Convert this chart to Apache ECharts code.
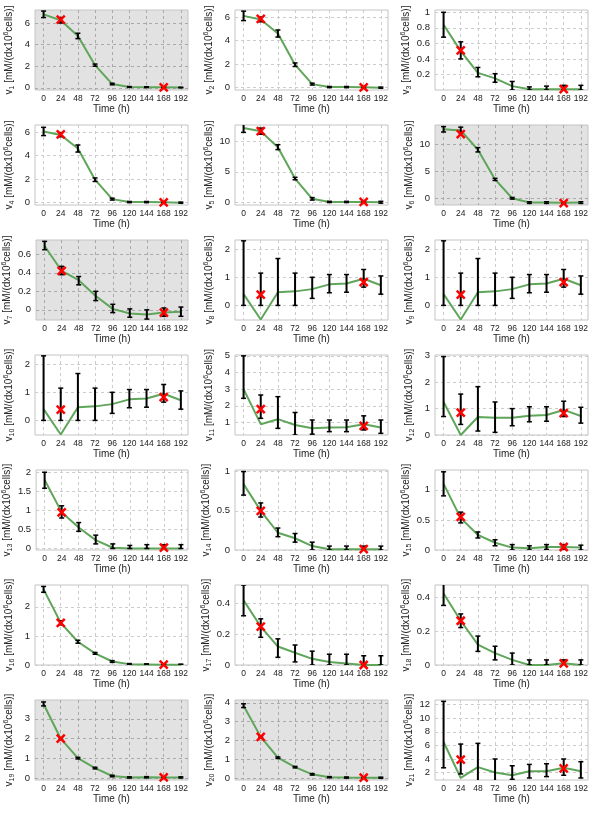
<!DOCTYPE html>
<html><head><meta charset="utf-8">
<script src="https://cdn.jsdelivr.net/npm/echarts@6/dist/echarts.min.js"></script>
<style>html,body{margin:0;padding:0;background:#fff}#c{width:600px;height:813px}</style>
</head><body><div id="c"></div><script>
const hours = [0,24,48,72,96,120,144,168,192];
const hourTicks = [0,24,48,72,96,120,144,168,192];
const markHours = [24,168];

const modelValues = [
  [6.8,6.25,4.8,2.1,0.35,0.08,0.06,0.05,0.03],
  [6.1,5.8,4.6,1.95,0.3,0.05,0.05,0.04,0.0],
  [0.84,0.5,0.22,0.15,0.05,0.01,0.01,0.01,0.01],
  [6.05,5.75,4.6,1.95,0.3,0.05,0.05,0.04,0.0],
  [12.1,11.6,9.0,3.9,0.6,0.1,0.1,0.1,0.05],
  [12.8,12.6,9.0,3.5,0.0,-0.8,-0.8,-0.85,-0.8],
  [0.69,0.42,0.32,0.15,0.01,-0.04,-0.05,-0.03,-0.02],
  [0.4,-0.5,0.47,0.5,0.58,0.75,0.78,0.95,0.72],
  [0.4,-0.5,0.47,0.5,0.58,0.75,0.78,0.95,0.72],
  [0.4,-0.5,0.47,0.5,0.58,0.75,0.78,0.95,0.72],
  [3.0,0.9,1.2,0.85,0.65,0.7,0.72,0.9,0.7],
  [1.25,0.0,0.68,0.65,0.65,0.73,0.76,0.95,0.72],
  [1.8,0.95,0.55,0.22,0.02,0,0,0,0],
  [0.84,0.5,0.22,0.15,0.05,0.01,0.01,0.01,0.01],
  [1.1,0.53,0.25,0.12,0.04,0.03,0.05,0.05,0.04],
  [2.6,1.45,0.8,0.4,0.12,0.03,0.02,0.01,0.01],
  [0.42,0.25,0.12,0.08,0.04,0.02,0.01,0.0,0.0],
  [0.42,0.26,0.12,0.07,0.03,0.0,0.0,0.01,0.0],
  [3.75,2.0,1.02,0.52,0.12,0.05,0.06,0.05,0.05],
  [3.85,2.2,1.1,0.6,0.22,0.07,0.05,0.04,0.04],
  [6.5,1.2,2.8,2.0,1.6,2.2,2.2,2.7,2.2]
];
const errLow = [
  [6.5,6.0,4.55,2.0,0.28,0.04,0.03,0.02,0.0],
  [5.7,5.6,4.3,1.8,0.22,0.0,0.0,0.0,-0.05],
  [0.68,0.4,0.17,0.1,0.0,0.0,0.0,0.0,0.0],
  [5.7,5.6,4.3,1.8,0.22,0,0,0,-0.05],
  [11.4,11.1,8.6,3.7,0.4,0.0,0.0,0.0,-0.1],
  [12.3,12.2,8.6,3.3,-0.15,-0.95,-0.95,-1.0,-0.95],
  [0.65,0.38,0.27,0.1,-0.03,-0.08,-0.1,-0.07,-0.07],
  [0,0,0,0,0.25,0.45,0.47,0.65,0.4],
  [0,0,0,0,0.25,0.45,0.47,0.65,0.4],
  [0,0,0,0,0.25,0.45,0.47,0.65,0.4],
  [2.45,1.25,0.65,0.25,0.3,0.45,0.45,0.55,0.35],
  [0.7,0.4,0.15,0.1,0.35,0.5,0.52,0.7,0.45],
  [1.58,0.8,0.45,0.12,0,0,0,0,0],
  [0.7,0.42,0.17,0.1,0,0,0,0,0],
  [0.9,0.45,0.2,0.07,0,0,0.01,0.01,0],
  [2.5,1.38,0.75,0.37,0.09,0.01,0.0,0.0,0.0],
  [0.32,0.18,0.05,0.02,0,0,0,0,0],
  [0.35,0.22,0.08,0.03,0,0,0,0,0],
  [3.65,1.95,0.98,0.48,0.08,0.02,0.03,0.02,0.02],
  [3.75,2.15,1.06,0.56,0.18,0.04,0.02,0.01,0.01],
  [2.7,1.8,0.3,0.8,1.0,1.2,1.4,1.6,1.2]
];
const errHigh = [
  [7.1,6.5,5.05,2.2,0.42,0.12,0.1,0.08,0.06],
  [6.5,6.0,4.9,2.1,0.38,0.1,0.1,0.1,0.05],
  [1.0,0.62,0.29,0.21,0.11,0.04,0.05,0.06,0.06],
  [6.4,5.95,4.9,2.1,0.38,0.1,0.1,0.1,0.05],
  [12.8,12.1,9.4,4.1,0.8,0.2,0.2,0.2,0.2],
  [13.3,13.2,9.4,3.7,0.15,-0.65,-0.65,-0.7,-0.65],
  [0.74,0.47,0.36,0.2,0.06,0.01,0.0,0.02,0.03],
  [2.3,1.15,1.67,1.15,1.0,1.1,1.1,1.28,1.05],
  [2.3,1.15,1.67,1.15,1.0,1.1,1.1,1.28,1.05],
  [2.3,1.15,1.67,1.15,1.0,1.1,1.1,1.28,1.05],
  [5.0,2.65,2.55,1.6,1.15,1.15,1.15,1.4,1.15],
  [2.97,1.55,1.83,1.25,1.0,1.07,1.07,1.28,1.05],
  [2.0,1.12,0.68,0.35,0.12,0.08,0.1,0.1,0.1],
  [1.0,0.6,0.28,0.21,0.1,0.05,0.05,0.05,0.05],
  [1.3,0.63,0.3,0.17,0.09,0.07,0.09,0.09,0.08],
  [2.7,1.52,0.85,0.43,0.15,0.05,0.04,0.03,0.03],
  [0.52,0.3,0.17,0.13,0.09,0.07,0.07,0.06,0.06],
  [0.48,0.3,0.17,0.11,0.07,0.03,0.03,0.03,0.03],
  [3.85,2.05,1.06,0.56,0.16,0.08,0.09,0.08,0.08],
  [3.95,2.25,1.14,0.64,0.26,0.1,0.08,0.07,0.07],
  [12.5,6.2,6.3,4.0,3.0,3.2,3.3,4.0,3.6]
];
const markValues = [
  [6.3,0.05],[5.85,0.03],[0.51,0.01],[5.8,0.03],[11.6,0.1],[11.9,-0.9],[0.42,-0.03],
  [0.38,0.83],[0.38,0.83],[0.38,0.83],[1.8,0.8],[0.85,0.83],[0.95,0.02],[0.5,0.01],
  [0.55,0.05],[1.45,0.01],[0.25,0.0],[0.26,0.01],[2.0,0.05],[2.2,0.04],[3.9,2.6]
];
const yTicks = [
  [0,2,4,6],[0,2,4,6],[0.2,0.4,0.6,0.8,1],[0,2,4,6],[0,5,10],[0,5,10],[0,0.2,0.4,0.6],
  [0,1,2],[0,1,2],[0,1,2],[1,2,3,4,5],[0,1,2,3],[0,0.5,1,1.5,2],[0,0.5,1],
  [0,0.5,1],[0,1,2],[0,0.2,0.4],[0,0.2,0.4],[0,1,2,3],[0,1,2,3,4],[2,4,6,8,10,12]
];
const yMin = [-0.2,-0.2,0,-0.2,-0.4,-1.25,-0.11,-0.52,-0.52,-0.52,0.25,0,-0.04,0,0,0,0,0,-0.08,-0.08,0.9];
const yMax = [7.2,6.6,1.03,6.6,12.6,13.6,0.755,2.33,2.33,2.33,5.05,3.03,2.06,1.02,1.33,2.75,0.52,0.47,3.95,4.15,12.7];
const shadedPanels = [1,6,7,19,20];

const FONT = "'Liberation Sans Narrow', 'Arial Narrow', 'Liberation Sans'";
const grids = [], xAxes = [], yAxes = [], series = [];

function renderErr(params, api) {
  const x = api.value(0);
  const p1 = api.coord([x, api.value(1)]);
  const p2 = api.coord([x, api.value(2)]);
  const w = 2.5;
  const st = {stroke: '#000', lineWidth: 2};
  return {type: 'group', children: [
    {type: 'line', shape: {x1: p1[0], y1: p1[1], x2: p2[0], y2: p2[1]}, style: st},
    {type: 'line', shape: {x1: p1[0]-w, y1: p1[1], x2: p1[0]+w, y2: p1[1]}, style: {stroke:'#000', lineWidth:1.5}},
    {type: 'line', shape: {x1: p2[0]-w, y1: p2[1], x2: p2[0]+w, y2: p2[1]}, style: {stroke:'#000', lineWidth:1.5}}
  ]};
}
function renderX(params, api) {
  const p = api.coord([api.value(0), api.value(1)]);
  const s = 4;
  const st = {stroke: '#ff0000', lineWidth: 2.5};
  return {type: 'group', children: [
    {type: 'line', shape: {x1: p[0]-s, y1: p[1]-s, x2: p[0]+s, y2: p[1]+s}, style: st},
    {type: 'line', shape: {x1: p[0]-s, y1: p[1]+s, x2: p[0]+s, y2: p[1]-s}, style: st}
  ]};
}

for (let i = 0; i < 21; i++) {
  const r = Math.floor(i / 3), c = i % 3;
  const shaded = shadedPanels.includes(i + 1);
  grids.push({left: 35 + 200 * c, top: 10 + 115 * r, width: 153, height: 80,
    show: true, backgroundColor: shaded ? '#e2e2e2' : '#ffffff',
    borderColor: '#c4c4c4', borderWidth: 1});
  const dash = {show: true, lineStyle: {color: shaded ? '#aaaaaa' : '#cccccc', type: [3, 3], width: 1}};
  xAxes.push({type: 'value', gridIndex: i, min: -12, max: 202,
    axisLine: {show: false},
    axisTick: {show: false, customValues: hourTicks},
    axisLabel: {customValues: hourTicks, fontSize: 8.5, fontFamily: FONT, color: '#222', margin: 4},
    splitLine: dash,
    name: 'Time (h)', nameLocation: 'middle', nameGap: 14,
    nameTextStyle: {fontSize: 10, fontFamily: FONT, color: '#222'}});
  yAxes.push({type: 'value', gridIndex: i, min: yMin[i], max: yMax[i],
    axisLine: {show: false},
    axisTick: {show: false, customValues: yTicks[i]},
    axisLabel: {customValues: yTicks[i], fontSize: 9.5, fontFamily: FONT, color: '#222', margin: 5},
    splitLine: dash,
    name: '{n|v}{s|' + (i + 1) + '}{n| [mM/(dx10}{p|6}{n|cells)]}',
    nameLocation: 'middle', nameGap: 19, nameRotate: 90,
    nameTextStyle: {fontFamily: FONT, color: '#222', rich: {
      n: {fontSize: 10, lineHeight: 13, fontFamily: FONT, color: '#222'},
      s: {fontSize: 7, lineHeight: 7, verticalAlign: 'bottom', fontFamily: FONT, color: '#222'},
      p: {fontSize: 7, lineHeight: 7, verticalAlign: 'top', fontFamily: FONT, color: '#222'}
    }}});
  series.push({type: 'line', xAxisIndex: i, yAxisIndex: i, symbol: 'none', silent: true, clip: true,
    lineStyle: {color: '#5fa55a', width: 2}, z: 2,
    data: hours.map((h, k) => [h, modelValues[i][k]])});
  series.push({type: 'custom', xAxisIndex: i, yAxisIndex: i, renderItem: renderErr, clip: true, z: 3,
    silent: true, encode: {x: 0, y: [1, 2]},
    data: hours.map((h, k) => [h, errLow[i][k], errHigh[i][k]])});
  series.push({type: 'custom', xAxisIndex: i, yAxisIndex: i, renderItem: renderX, clip: false, z: 4,
    silent: true, encode: {x: 0, y: 1},
    data: markHours.map((h, k) => [h, markValues[i][k]])});
}

const chart = echarts.init(document.getElementById('c'), null, {renderer: 'canvas'});
chart.setOption({animation: false, grid: grids, xAxis: xAxes, yAxis: yAxes, series: series});
</script></body></html>
